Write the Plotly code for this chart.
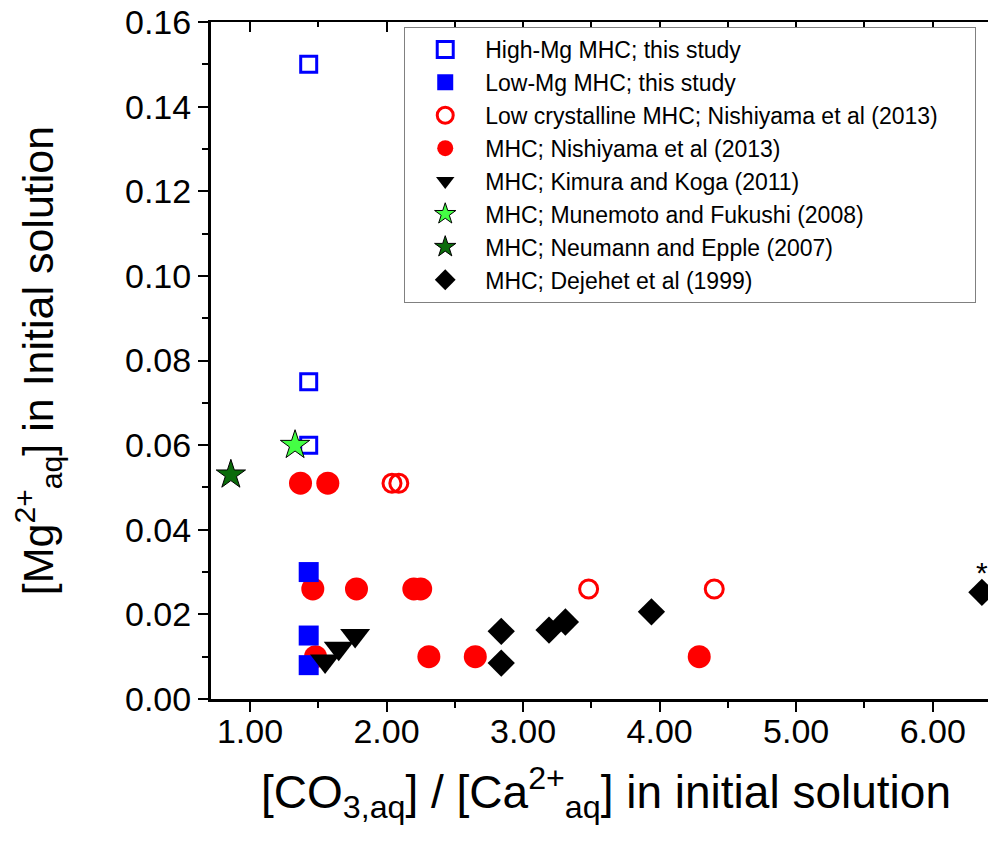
import plotly.graph_objects as go

# ---- data ----
high_mg_x = [1.43, 1.43, 1.43]
high_mg_y = [0.150, 0.075, 0.060]

low_mg_x = [1.43, 1.43, 1.43]
low_mg_y = [0.030, 0.015, 0.008]

lowcryst_x = [2.04, 2.09, 3.48, 4.40]
lowcryst_y = [0.051, 0.051, 0.026, 0.026]

nishi_x = [1.37, 1.57, 1.46, 1.78, 2.20, 2.25, 1.48, 2.31, 2.65, 4.29]
nishi_y = [0.051, 0.051, 0.026, 0.026, 0.026, 0.026, 0.010, 0.010, 0.010, 0.010]

kimura_x = [1.55, 1.65, 1.77]
kimura_y = [0.009, 0.012, 0.015]

munemoto_x = [1.33]
munemoto_y = [0.060]

neumann_x = [0.86]
neumann_y = [0.053]

dejehet_x = [2.84, 2.84, 3.19, 3.31, 3.94, 6.36]
dejehet_y = [0.016, 0.0085, 0.0163, 0.0182, 0.0206, 0.0252]

x_ticks = [1, 2, 3, 4, 5, 6]
y_ticks = [0.00, 0.02, 0.04, 0.06, 0.08, 0.10, 0.12, 0.14, 0.16]

FONT = "Liberation Sans, Arial, sans-serif"
PAD = "&nbsp;" * 5  # widens the legend box to the reference width

fig = go.Figure()

# drawing order (legend order set via legendrank)
fig.add_trace(go.Scatter(
    x=nishi_x, y=nishi_y, mode="markers", name="MHC; Nishiyama et al (2013)",
    legendrank=4,
    marker=dict(symbol="circle", size=23, color="#FF0000", line=dict(width=0))))
fig.add_trace(go.Scatter(
    x=lowcryst_x, y=lowcryst_y, mode="markers",
    name="Low crystalline MHC; Nishiyama et al (2013)" + PAD, legendrank=3,
    marker=dict(symbol="circle-open", size=18, color="#FF0000", line=dict(width=3, color="#FF0000"))))
fig.add_trace(go.Scatter(
    x=high_mg_x, y=high_mg_y, mode="markers", name="High-Mg MHC; this study",
    legendrank=1,
    marker=dict(symbol="square-open", size=16, color="#0000FF", line=dict(width=3, color="#0000FF"))))
fig.add_trace(go.Scatter(
    x=low_mg_x, y=low_mg_y, mode="markers", name="Low-Mg MHC; this study",
    legendrank=2,
    marker=dict(symbol="square", size=20, color="#0000FF", line=dict(width=0))))
fig.add_trace(go.Scatter(
    x=kimura_x, y=kimura_y, mode="markers", name="MHC; Kimura and Koga (2011)",
    legendrank=5,
    marker=dict(symbol="triangle-down", size=26, color="black", line=dict(width=0))))
fig.add_trace(go.Scatter(
    x=munemoto_x, y=munemoto_y, mode="markers", name="MHC; Munemoto and Fukushi (2008)",
    legendrank=6,
    marker=dict(symbol="star", size=22, color="#44FF44", line=dict(width=1, color="black"))))
fig.add_trace(go.Scatter(
    x=neumann_x, y=neumann_y, mode="markers", name="MHC; Neumann and Epple (2007)",
    legendrank=7,
    marker=dict(symbol="star", size=22, color="#0B6B0B", line=dict(width=1, color="black"))))
fig.add_trace(go.Scatter(
    x=dejehet_x, y=dejehet_y, mode="markers", name="MHC; Dejehet et al (1999)",
    legendrank=8,
    marker=dict(symbol="diamond", size=21, color="black", line=dict(width=0))))

# empty trace to activate mirror axes (top / right)
fig.add_trace(go.Scatter(x=[], y=[], xaxis="x2", yaxis="y2", showlegend=False,
                         hoverinfo="skip"))

fig.add_annotation(x=dejehet_x[-1], y=dejehet_y[-1], text="*", showarrow=False,
                   yshift=20, font=dict(family=FONT, size=30, color="black"))

x_range = [0.7145, 6.5]
y_range = [0, 0.16]

fig.update_layout(
    width=996, height=845,
    margin=dict(l=203, r=3, t=14, b=154, autoexpand=False),
    paper_bgcolor="white", plot_bgcolor="white",
    font=dict(family=FONT, color="black"),
    showlegend=True,
    legend=dict(
        x=0.2446, y=0.9926, xanchor="left", yanchor="top",
        bgcolor="white", bordercolor="#808080", borderwidth=1,
        font=dict(family=FONT, size=23, color="black"),
        itemsizing="trace", itemwidth=70,
    ),
    xaxis=dict(
        range=x_range, showgrid=False, zeroline=False, automargin=False,
        showline=True, linecolor="black", linewidth=3,
        tickmode="array", tickvals=x_ticks, tickformat=".2f",
        ticks="outside", ticklen=10, tickwidth=2, tickcolor="black",
        ticklabelstandoff=-10, ticklabeloverflow="allow",
        tickfont=dict(family=FONT, size=34, color="black"),
        minor=dict(dtick=0.5, tick0=0, ticks="outside", ticklen=6, tickwidth=2, tickcolor="black"),
        title=dict(text="[CO<sub>3,aq</sub>] / [Ca<sup>2+</sup><sub>aq</sub>] in initial solution",
                   font=dict(family=FONT, size=46, color="black"), standoff=28),
    ),
    yaxis=dict(
        range=y_range, showgrid=False, zeroline=False, automargin=False,
        showline=True, linecolor="black", linewidth=3,
        tickmode="array", tickvals=y_ticks, tickformat=".2f",
        ticks="outside", ticklen=10, tickwidth=2, tickcolor="black",
        ticklabeloverflow="allow",
        tickfont=dict(family=FONT, size=34, color="black"),
        minor=dict(dtick=0.01, tick0=0, ticks="outside", ticklen=6, tickwidth=2, tickcolor="black"),
        title=dict(text="[Mg<sup>2+</sup><sub>aq</sub>] in Initial solution",
                   font=dict(family=FONT, size=43, color="black"), standoff=58),
    ),
    xaxis2=dict(
        overlaying="x", side="top", anchor="y", matches="x", range=x_range,
        automargin=False,
        showgrid=False, zeroline=False, showticklabels=False,
        showline=True, linecolor="black", linewidth=1.5,
        tickmode="array", tickvals=x_ticks,
        ticks="inside", ticklen=10, tickwidth=1.5, tickcolor="black",
        minor=dict(dtick=0.5, tick0=0, ticks="inside", ticklen=5, tickwidth=1.5, tickcolor="black"),
    ),
    yaxis2=dict(
        overlaying="y", side="right", anchor="x", matches="y", range=y_range,
        automargin=False,
        showgrid=False, zeroline=False, showticklabels=False,
        showline=False,
        tickmode="array", tickvals=y_ticks,
        ticks="inside", ticklen=10, tickwidth=1.5, tickcolor="black",
        minor=dict(dtick=0.01, tick0=0, ticks="inside", ticklen=6, tickwidth=1.5, tickcolor="#888888"),
    ),
)

fig.write_html("out.html")
